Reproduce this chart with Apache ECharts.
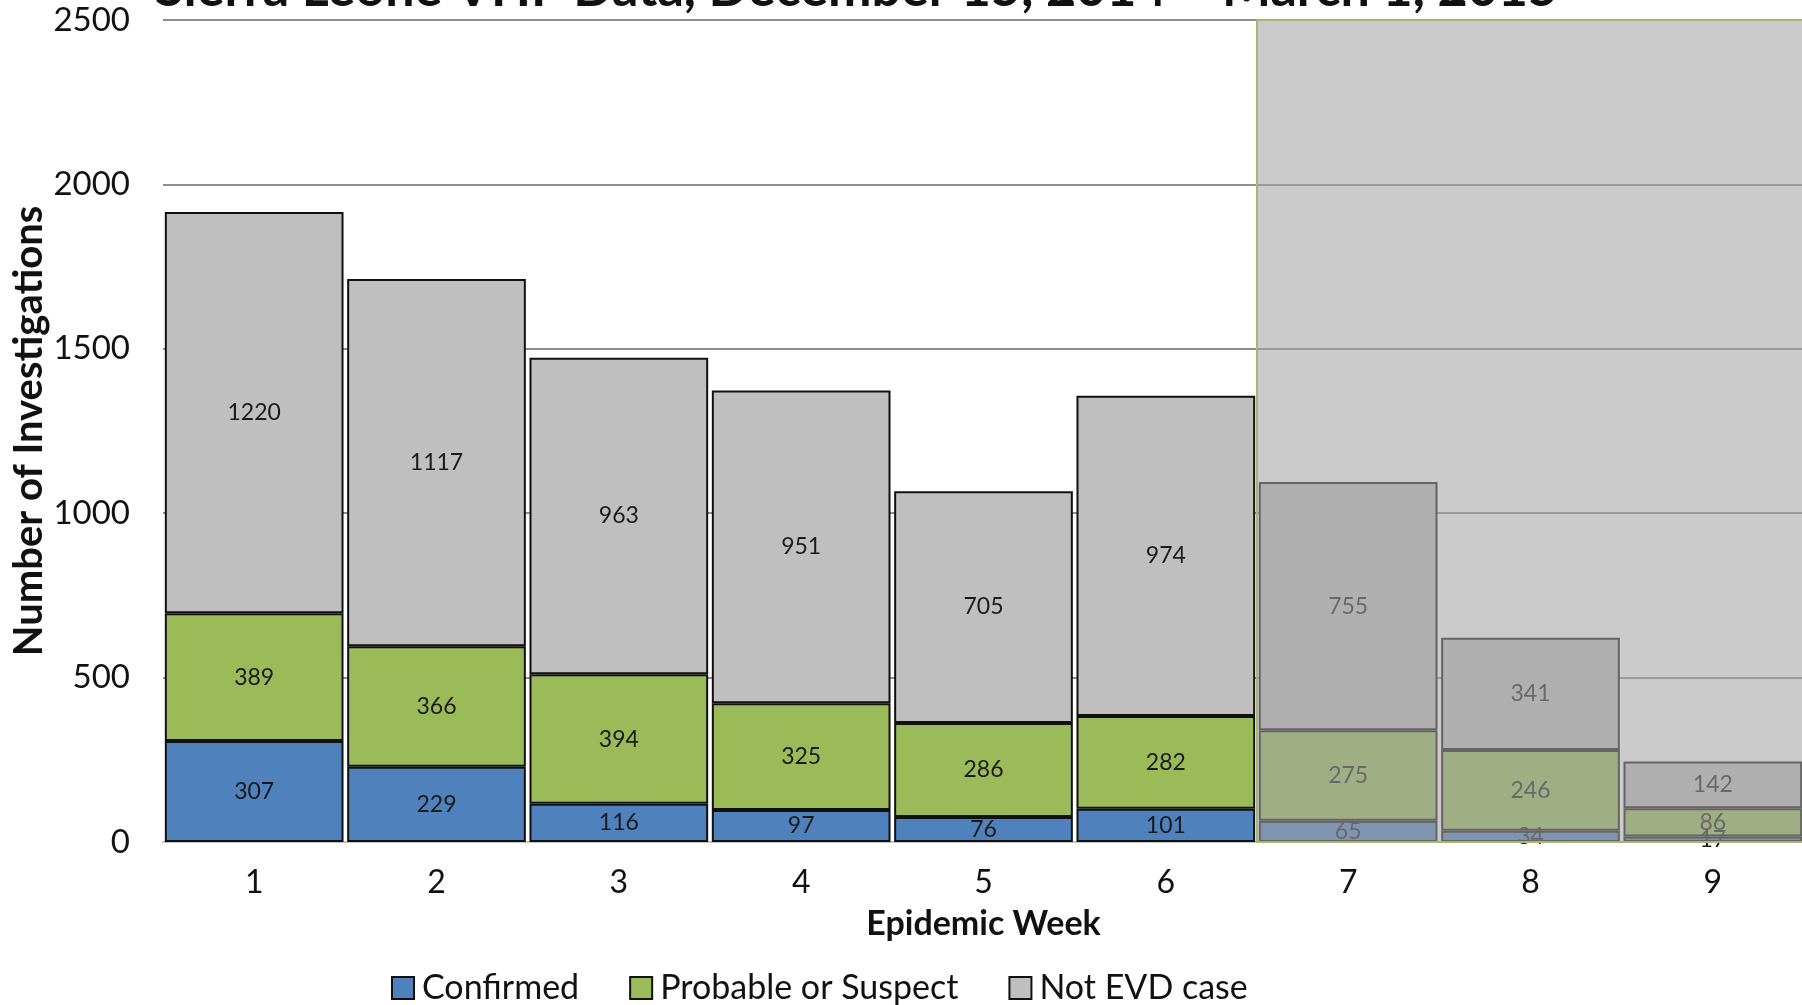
<!DOCTYPE html>
<html>
<head>
<meta charset="utf-8">
<script src="https://cdn.jsdelivr.net/npm/echarts@6/dist/echarts.min.js"></script>
<style>
html,body{margin:0;padding:0;background:#fff;}
#chart{width:1802px;height:1005px;}
</style>
</head>
<body>
<div id="chart"></div>
<script>
const titleText = 'Sierra Leone VHF Data, December 15, 2014 \u2013 March 1, 2015';
const weeks = ['1', '2', '3', '4', '5', '6', '7', '8', '9'];
const confirmed = [307, 229, 116, 97, 76, 101, 65, 34, 17];
const probable = [389, 366, 394, 325, 286, 282, 275, 246, 86];
const notEvd = [1220, 1117, 963, 951, 705, 974, 755, 341, 142];
const seriesNames = ['Confirmed', 'Probable or Suspect', 'Not EVD case'];
const yMin = 0, yMax = 2500, yStep = 500;
const highlightFromWeek = '7';
const highlightToWeek = '9';

const FONT = 'Lato';
const colors = ['#4f81bd', '#9bbb59', '#bfbfbf'];
const chart = echarts.init(document.getElementById('chart'), null, {renderer: 'canvas'});

function barSeries(name, data, color) {
  return {
    name: name,
    type: 'bar',
    stack: 'total',
    data: data,
    barCategoryGap: '2%',
    z: 2,
    itemStyle: {color: color, borderColor: '#111', borderWidth: 2},
    label: {
      show: true, position: 'inside', color: '#1a1a1a',
      fontFamily: FONT, fontSize: 23
    }
  };
}

const hiStart = weeks.indexOf(highlightFromWeek);
const hiEnd = weeks.indexOf(highlightToWeek) + 1;

chart.setOption({
  animation: false,
  backgroundColor: '#fff',
  title: {
    text: titleText,
    left: 150, top: -42,
    textStyle: {fontFamily: FONT, fontSize: 52, fontWeight: 'bold', color: '#111'}
  },
  grid: {left: 163, right: -2, top: 20, bottom: 163, containLabel: false, outerBoundsMode: 'none'},
  legend: {
    data: seriesNames,
    icon: 'rect',
    left: 386, top: 966,
    itemWidth: 22, itemHeight: 22, itemGap: 50,
    textStyle: {fontFamily: FONT, fontSize: 34, color: '#111', padding: [0, 0, 0, 3]}
  },
  xAxis: [{
    type: 'category',
    data: weeks,
    name: 'Epidemic Week',
    nameLocation: 'middle',
    nameGap: 65,
    nameTextStyle: {fontFamily: FONT, fontSize: 34, fontWeight: 'bold', color: '#111'},
    axisLine: {lineStyle: {color: '#c4c4c4', width: 2}},
    axisTick: {show: false},
    axisLabel: {fontFamily: FONT, fontSize: 32, color: '#111', margin: 25}
  }, {
    type: 'value', min: 0, max: weeks.length, show: false
  }],
  yAxis: {
    type: 'value',
    min: yMin, max: yMax, interval: yStep,
    name: 'Number of Investigations',
    nameLocation: 'middle',
    nameGap: 114,
    nameMoveOverlap: false,
    nameTextStyle: {fontFamily: FONT, fontSize: 40, fontWeight: 'bold', color: '#111'},
    axisLine: {show: false},
    axisTick: {show: false},
    axisLabel: {fontFamily: FONT, fontSize: 33, color: '#111', margin: 33, formatter: function (v) { return String(v); }},
    splitLine: {lineStyle: {color: '#8f8f8f', width: 2}}
  },
  series: [
    barSeries(seriesNames[0], confirmed, colors[0]),
    barSeries(seriesNames[1], probable, colors[1]),
    barSeries(seriesNames[2], notEvd, colors[2]),
    {
      type: 'line',
      xAxisIndex: 1,
      yAxisIndex: 0,
      data: [],
      z: 20,
      clip: false,
      silent: true,
      markArea: {
        silent: true,
        z: 20,
        itemStyle: {color: 'rgba(164,164,164,0.57)', borderColor: '#a9b66e', borderWidth: 2},
        data: [[{coord: [hiStart, yMax]}, {coord: [hiEnd, yMin]}]]
      }
    }
  ]
});
</script>
</body>
</html>
